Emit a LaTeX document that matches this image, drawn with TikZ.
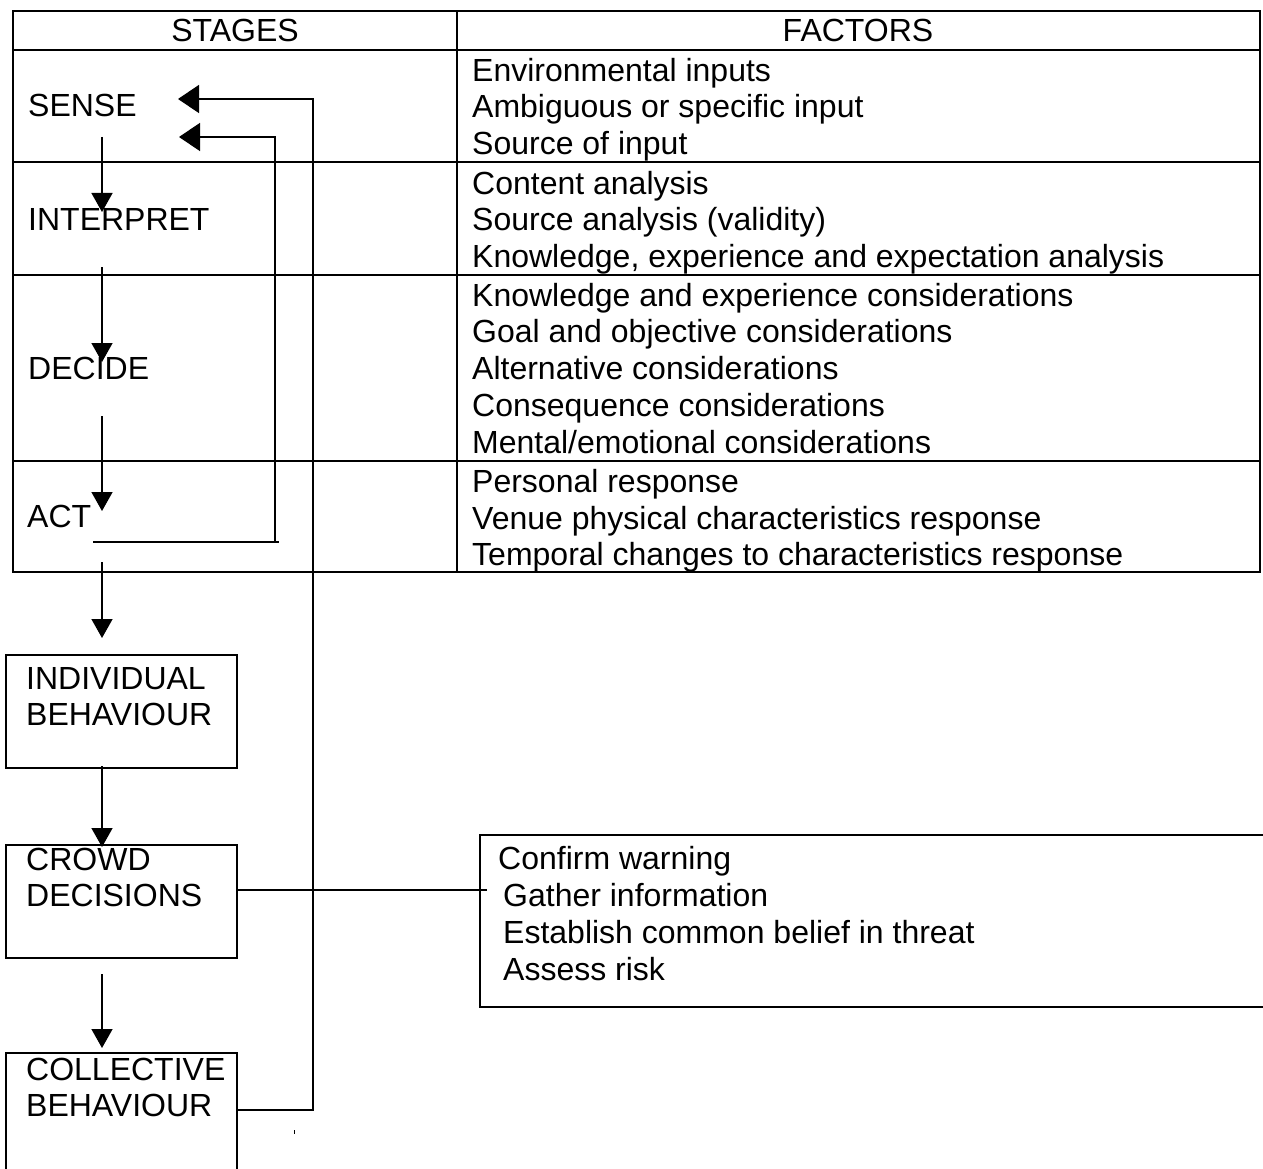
\documentclass[tikz,border=0pt]{standalone}
\usepackage{fontspec}
\setmainfont{Liberation Sans}
\usetikzlibrary{arrows.meta}
\begin{document}
\begin{tikzpicture}[x=1pt,y=-1pt,
  txt/.style={anchor=base west,inner sep=0pt,font=\fontsize{32}{38}\selectfont},
  hdr/.style={anchor=base,inner sep=0pt,font=\fontsize{32}{38}\selectfont},
  ln/.style={line width=1.5pt},
  arr/.style={line width=1.5pt,-{Triangle[length=19pt,width=21pt]}},
  arrb/.style={line width=1.5pt,-{Triangle[length=21pt,width=28pt]}},
]
\useasboundingbox[fill=white] (0,0) rectangle (1263,1169);
% table
\draw[ln] (13,11) rectangle (1260,572);
\draw[ln] (13,50) -- (1260,50);
\draw[ln] (13,162) -- (1260,162);
\draw[ln] (13,275) -- (1260,275);
\draw[ln] (13,461) -- (1260,461);
\draw[ln] (457,11) -- (457,572);
% headers
\node[hdr] (hstages) at (235,41.7) {STAGES};
\node[hdr] (hfactors) at (858,41.7) {FACTORS};
% stages
\node[txt] (sense) at (28,116.7) {SENSE};
\node[txt] (interpret) at (28,230) {INTERPRET};
\node[txt] (decide) at (28,379) {DECIDE};
\node[txt] (act) at (27,527) {ACT};
% factors
\node[txt] (f1a) at (472,81.5) {Environmental inputs};
\node[txt] (f1b) at (472,118) {Ambiguous or specific input};
\node[txt] (f1c) at (472,154.5) {Source of input};
\node[txt] (f2a) at (472,194.5) {Content analysis};
\node[txt] (f2b) at (472,230.5) {Source analysis (validity)};
\node[txt] (f2c) at (472,267) {Knowledge, experience and expectation analysis};
\node[txt] (f3a) at (472,306.5) {Knowledge and experience considerations};
\node[txt] (f3b) at (472,342.5) {Goal and objective considerations};
\node[txt] (f3c) at (472,379.5) {Alternative considerations};
\node[txt] (f3d) at (472,416.5) {Consequence considerations};
\node[txt] (f3e) at (472,453) {Mental/emotional considerations};
\node[txt] (f4a) at (472,492.5) {Personal response};
\node[txt] (f4b) at (472,529.5) {Venue physical characteristics response};
\node[txt] (f4c) at (472,565) {Temporal changes to characteristics response};
% lower boxes
\draw[ln] (6,655) rectangle (237,768);
\draw[ln] (6,845) rectangle (237,958);
\draw[ln] (6,1169) -- (6,1053) -- (237,1053) -- (237,1169);
\node[txt] (ind1) at (26,689) {INDIVIDUAL};
\node[txt] (ind2) at (26,725.7) {BEHAVIOUR};
\node[txt] (crd1) at (26,870) {CROWD};
\node[txt] (crd2) at (26,906.7) {DECISIONS};
\node[txt] (col1) at (26,1080) {COLLECTIVE};
\node[txt] (col2) at (26,1116.7) {BEHAVIOUR};
% right box
\draw[ln] (1263,835) -- (480,835) -- (480,1007) -- (1263,1007);
\node[txt] (r1) at (498,869) {Confirm warning};
\node[txt] (r2) at (503,906) {Gather information};
\node[txt] (r3) at (503,943) {Establish common belief in threat};
\node[txt] (r4) at (503,980) {Assess risk};
% arrow coordinates
\coordinate (a1s) at (102,137);  \coordinate (a1e) at (102,212);
\coordinate (a2s) at (102,267);  \coordinate (a2e) at (102,362);
\coordinate (a3s) at (102,416);  \coordinate (a3e) at (102,511);
\coordinate (a4s) at (102,562);  \coordinate (a4e) at (102,638);
\coordinate (a5s) at (102,766);  \coordinate (a5e) at (102,847);
\coordinate (a6s) at (102,974);  \coordinate (a6e) at (102,1048);
\draw[arr] (a1s) -- (a1e);
\draw[arr] (a2s) -- (a2e);
\draw[arr] (a3s) -- (a3e);
\draw[arr] (a4s) -- (a4e);
\draw[arr] (a5s) -- (a5e);
\draw[arr] (a6s) -- (a6e);
% feedback loops
\coordinate (actl) at (93,542); \coordinate (actr) at (279,542);
\coordinate (in1) at (275,542); \coordinate (in2) at (275,137); \coordinate (in3) at (179,137);
\draw[ln] (actl) -- (actr);
\draw[arrb] (in1) -- (in2) -- (in3);
\coordinate (out0) at (237,1110); \coordinate (out1) at (313,1110);
\coordinate (out2) at (313,99); \coordinate (out3) at (178,99);
\draw[arrb] (out0) -- (out1) -- (out2) -- (out3);
% crowd link
\coordinate (cl) at (237,890); \coordinate (cr) at (487,890);
\draw[ln] (cl) -- (cr);
% stray speck
\fill (293.5,1130) rectangle (294.5,1134);
\end{tikzpicture}
\end{document}
